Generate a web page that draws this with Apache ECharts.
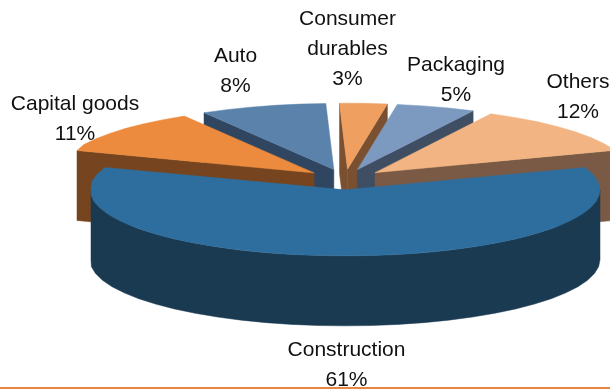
<!DOCTYPE html>
<html>
<head>
<meta charset="utf-8">
<script src="https://cdn.jsdelivr.net/npm/echarts@6/dist/echarts.min.js"></script>
<style>html,body{margin:0;padding:0;background:#fff}#chart{width:610px;height:391px}</style>
</head>
<body>
<div id="chart"></div>
<script>
// Sector shares in percent, counter-clockwise from the right-hand edge of Others
const categories = ['Others', 'Packaging', 'Consumer\ndurables', 'Auto', 'Capital goods', 'Construction'];
const shares = [12, 5, 3, 8, 11, 61];
const topColors = ['#f2b483', '#7c9abf', '#ef9f60', '#5a82ab', '#ec8b3d', '#2e6e9e'];
const sideColors = ['#7a5a44', '#3f4e62', '#7a5030', '#2f4560', '#76441f', '#1a3a52'];
// Back slices are painted first so nearer ones overlap them
const paintOrder = [3, 2, 1, 4, 0, 5];
// Label centres in page pixels, same order as the categories
const labelCentres = [[578, 97], [456, 80], [347.5, 49.5], [235.5, 71.5], [75, 119], [346.5, 365.5]];

// Projected pie geometry; slices are trimmed to fixed horizontal spans
const pie = { cx: 345, cy: 179.5, rx: 255, ry: 66, depth: 70, explode: 0.157, firstAngle: 19.8, minX: 91, maxX: 601, outerMinX: 77, facet: 6 };
const total = shares.reduce((a, b) => a + b, 0);
const trimmedSlice = shares.indexOf(Math.max(...shares));

// Angular extent of every slice, derived from the shares
const extents = [];
shares.reduce((start, share) => {
  const end = start + share / total * 360;
  extents.push([start, end]);
  return end;
}, pie.firstAngle);

const rad = d => d * Math.PI / 180;

function sliceGeometry(i) {
  const [a0, a1] = extents[i];
  const mid = rad((a0 + a1) / 2);
  const apex = [
    pie.cx + pie.explode * pie.rx * Math.cos(mid),
    pie.cy - pie.explode * pie.ry * Math.sin(mid)
  ];
  const rim = a => {
    const x = apex[0] + pie.rx * Math.cos(rad(a));
    const px = i === trimmedSlice
      ? Math.min(pie.maxX, Math.max(pie.minX, x))
      : Math.max(pie.outerMinX, x);
    return [px, apex[1] - pie.ry * Math.sin(rad(a))];
  };
  // Rim facets: short straight runs rather than a perfect curve
  const arc = (from, to) => {
    const n = Math.max(1, Math.round((to - from) / pie.facet));
    const pts = [];
    for (let k = 0; k <= n; k++) pts.push(rim(from + (to - from) * k / n));
    return pts;
  };
  return { a0, a1, apex, rim, arc };
}

const drop = p => [p[0], p[1] + pie.depth];

function renderSlice(params, api) {
  const i = api.value(0);
  const g = sliceGeometry(i);
  const children = [];
  const face = (points, fill) => children.push({
    type: 'polygon',
    shape: { points },
    style: { fill, stroke: fill, lineWidth: 0.5 }
  });

  // Radial cut faces that turn towards the viewer
  const cut = a => {
    const corner = g.rim(a);
    face([corner, g.apex, drop(g.apex), drop(corner)], sideColors[i]);
  };
  if (Math.cos(rad(g.a0)) > 0 && g.a1 - g.a0 < 180) cut(g.a0);
  if (Math.cos(rad(g.a1)) < 0 && g.a1 - g.a0 < 180) cut(g.a1);

  // Outer wall, only along the near half of the rim
  const from = Math.max(g.a0, 180);
  const to = Math.min(g.a1, 360);
  if (to > from) {
    const wall = g.arc(from, to);
    face(wall.concat(wall.map(drop).reverse()), sideColors[i]);
  }

  // Top face
  face([g.apex].concat(g.arc(g.a0, g.a1)), topColors[i]);
  return { type: 'group', children };
}

function renderLabel(params, api) {
  const i = api.value(0);
  return {
    type: 'text',
    x: labelCentres[i][0],
    y: labelCentres[i][1],
    style: {
      text: categories[i] + '\n' + shares[i] + '%',
      fill: '#111111',
      font: '21px "Liberation Sans", Arial, sans-serif',
      lineHeight: 30,
      align: 'center',
      verticalAlign: 'middle'
    }
  };
}

const chart = echarts.init(document.getElementById('chart'), null, { renderer: 'canvas' });
chart.setOption({
  animation: false,
  backgroundColor: '#ffffff',
  graphic: [{
    type: 'rect',
    z: 4,
    shape: { x: 0, y: 387, width: 610, height: 2 },
    style: { fill: '#e8873f' }
  }],
  series: [
    {
      type: 'custom',
      coordinateSystem: 'none',
      z: 2,
      silent: true,
      renderItem: renderSlice,
      data: paintOrder.map(i => [i, shares[i]])
    },
    {
      type: 'custom',
      coordinateSystem: 'none',
      z: 3,
      silent: true,
      renderItem: renderLabel,
      data: categories.map((c, i) => [i, shares[i]])
    }
  ]
});
</script>
</body>
</html>
